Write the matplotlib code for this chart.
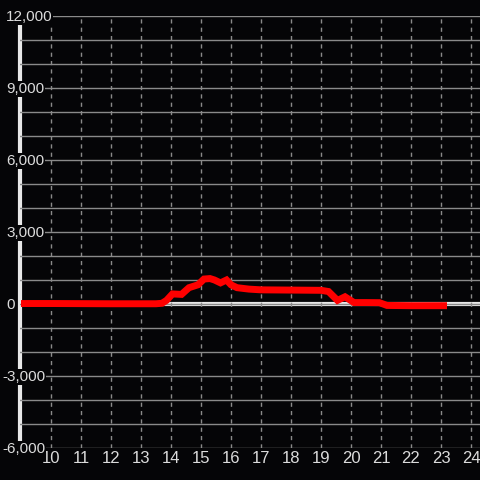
import matplotlib
matplotlib.use("Agg")
import matplotlib.pyplot as plt

hours = [9.0, 10.0, 11.0, 12.0, 13.0, 13.5, 13.7, 13.85, 14.05, 14.35, 14.6, 14.9,
         15.1, 15.3, 15.45, 15.65, 15.85, 16.0, 16.2, 16.6, 17.0, 18.0, 19.0, 19.25,
         19.55, 19.8, 20.1, 20.5, 20.95, 21.2, 22.0, 23.2]
values = [20, 20, 15, 10, 10, 10, 30, 150, 420, 400, 680, 800,
          1040, 1060, 1000, 880, 1000, 800, 680, 620, 590, 580, 570, 520,
          150, 300, 60, 60, 55, -60, -70, -70]
x_ticks = list(range(10, 25))
y_grid = list(range(-6000, 12001, 1000))
y_labels = [12000, 9000, 6000, 3000, 0, -3000, -6000]

bg = "#050507"
W, H = 480, 480
fig = plt.figure(figsize=(4.8, 4.8), dpi=100, facecolor=bg)
ax = fig.add_axes([20 / W, 1 - 448 / H, 460 / W, 432 / H], facecolor=bg)
plt.rcParams['font.family'] = ['Liberation Sans', 'DejaVu Sans']

x0 = 10 - 31 / 30
ax.set_xlim(x0, 24.3)
ax.set_ylim(-6000, 12000)

for s in ax.spines.values():
    s.set_visible(False)

ax.set_yticks(y_grid)
ax.set_yticklabels([])
ax.set_xticks(x_ticks)
ax.set_xticklabels([str(t) for t in x_ticks], fontsize=12, color="#dcdcdc",
                   family=['Liberation Sans', 'DejaVu Sans'])
ax.tick_params(axis='both', length=0)
ax.tick_params(axis='x', pad=2.5)

ax.grid(axis='y', color="#8a8a8a", lw=1, ls='-', zorder=0)
ax.grid(axis='x', color="#8a8a8a", lw=1, ls=(0, (3, 3)), zorder=0)

ax.axhline(0, color="#e8e8e8", lw=3, zorder=1)
ax.axvline(x0, color="#e8e8e8", lw=3, zorder=1, clip_on=False)

ax.plot(hours, values, color="#ff0000", lw=5, solid_joinstyle='miter',
        solid_capstyle='butt', zorder=2)

for v in y_labels:
    px = 2 if v < 0 else 6
    ax.text((px - 20) / 460, v - 40, f"{v:,}", transform=ax.get_yaxis_transform(),
            ha='left', va='center', fontsize=11, color="#dcdcdc",
            family=['Liberation Sans', 'DejaVu Sans'], clip_on=False, zorder=5,
            bbox=dict(boxstyle='square,pad=0.05', fc=bg, ec='none'))

fig.savefig("out.png", dpi=100, facecolor=bg)
